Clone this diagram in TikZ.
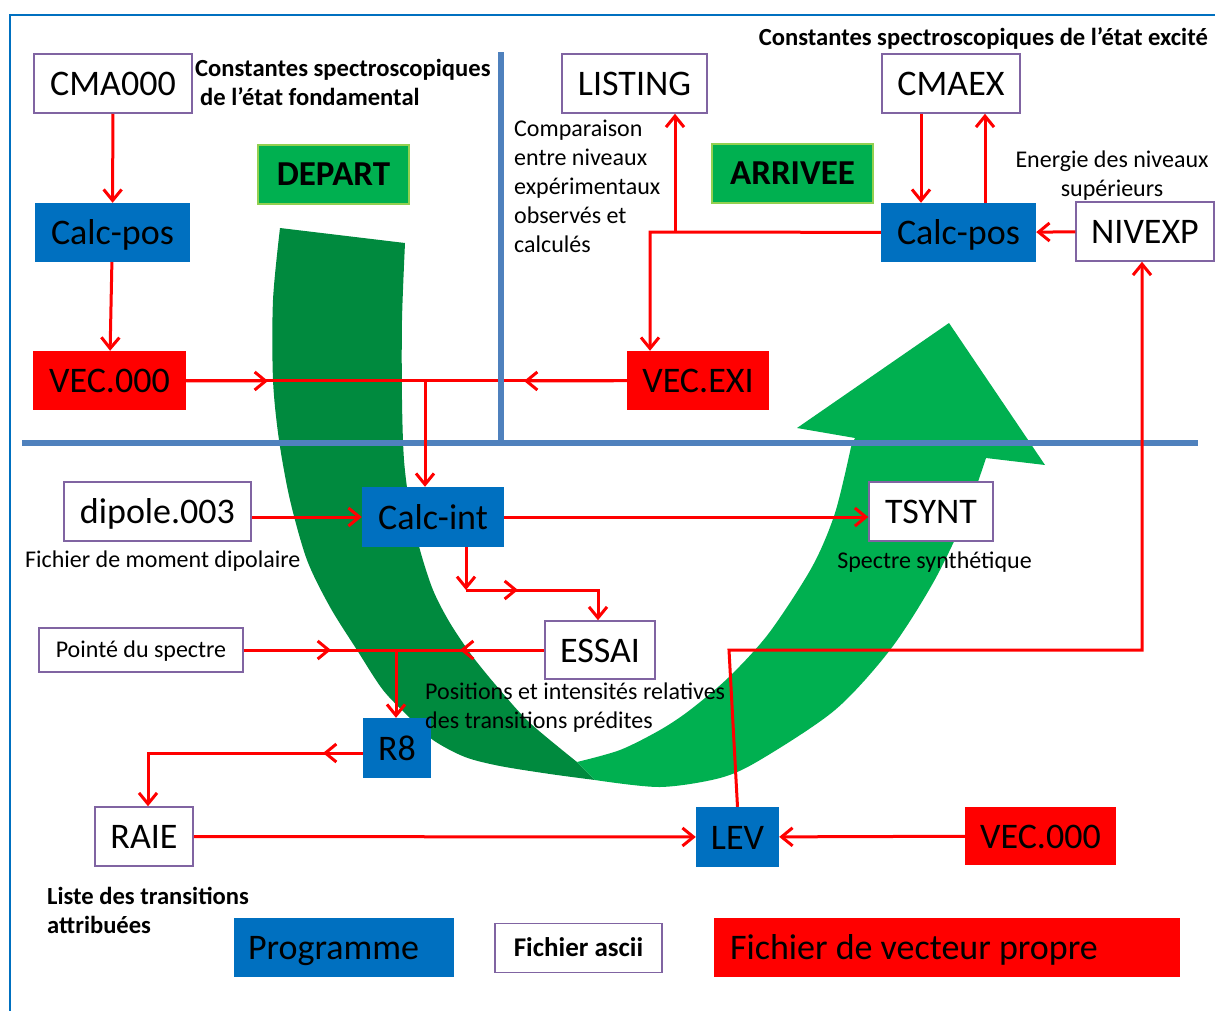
\documentclass[tikz,border=0pt]{standalone}
\usepackage{fontspec}
\setmainfont{Carlito}
\usetikzlibrary{arrows.meta}
\definecolor{progblue}{HTML}{0070C0}
\definecolor{frameblue}{HTML}{0070C0}
\definecolor{sepblue}{HTML}{4F81BD}
\definecolor{asciiborder}{HTML}{8064A2}
\definecolor{arrowdark}{HTML}{008A3E}
\definecolor{arrowgreen}{HTML}{00B050}
\definecolor{stageborder}{HTML}{92D050}
\tikzset{
  boxtext/.style={inner sep=0pt, minimum height=59, text height=28, text depth=4, font=\fontsize{36}{40}\selectfont},
  ascii/.style={boxtext, draw=asciiborder, line width=1.5pt, fill=white},
  prog/.style={boxtext, fill=progblue},
  eigvec/.style={boxtext, fill=red},
  stage/.style={fill=arrowgreen, draw=stageborder, line width=1.2pt, inner sep=0pt, minimum height=59, text height=26, text depth=4, font=\bfseries\fontsize{35}{40}\selectfont},
  note/.style={inner sep=0pt, align=left, font=\fontsize{24}{29}\selectfont},
  bnote/.style={inner sep=0pt, align=left, font=\bfseries\fontsize{24.6}{29}\selectfont},
}
\begin{document}
\begin{tikzpicture}[x=1pt,y=-1pt]
      \useasboundingbox (0,0) rectangle (1215,1010);
      \fill[arrowdark] plot[smooth] coordinates {(280,228) (273,300) (273,380) (279,440) (290,500) (307,560) (330,607) (357,650) (383,690) (410,718) (433,740) (465,757) (500,766) (550,774) (595,780)}
        -- plot[smooth] coordinates {(577,762) (530,723) (500,690) (473,657) (450,623) (433,590) (420,550) (410,507) (404,460) (402,400) (402,320) (405,243)} -- cycle;
      \fill[arrowgreen] plot[smooth] coordinates {(595,780) (660,787) (720,778) (760,760) (835,710) (890,650) (933,583) (965,517) (986,458)}
        -- (1045,465) -- (949,323) -- (797,428) -- (855,438)
        -- plot[smooth] coordinates {(851,447) (835,513) (812,567) (769,633) (729,677) (690,710) (660,730) (620,750) (577,762)} -- cycle;
      \draw[frameblue, line width=2.5pt] (10,1012) -- (10,15) -- (1217,15);
      \draw[sepblue, line width=6pt] (22,443) -- (1198,443);
      \draw
        (113,83.5) node[ascii, minimum width=158] (cmaA) {CMA000}
        (112.5,232.5) node[prog, minimum width=155] (calcposA) {Calc-pos}
        (109.5,380.5) node[eigvec, minimum width=153] (vecA) {VEC.000}
        (333.5,174.5) node[stage, minimum width=151] (depart) {DEPART}
        (634.5,83.5) node[ascii, minimum width=145] (listing) {LISTING}
        (792.5,173.5) node[stage, minimum width=161] (arrivee) {ARRIVEE}
        (951,83.5) node[ascii, minimum width=138] (cmaex) {CMAEX}
        (958.5,232.5) node[prog, minimum width=155] (calcposB) {Calc-pos}
        (1145,231.5) node[ascii, minimum width=138] (nivexp) {NIVEXP}
        (698,380.5) node[eigvec, minimum width=142] (vecexi) {VEC.EXI}
        (157.5,511.5) node[ascii, minimum width=187] (dipole) {dipole.003}
        (433,517) node[prog, minimum width=142, minimum height=60] (calcint) {Calc-int}
        (931,511.5) node[ascii, minimum width=124] (tsynt) {TSYNT}
        (141,650) node[ascii, minimum width=204, minimum height=44, text height=19, text depth=3.5, font=\fontsize{24}{28}\selectfont] (pointe) {Pointé du spectre}
        (600,650) node[ascii, minimum width=110, minimum height=58] (essai) {ESSAI}
        (397,748) node[prog, minimum width=68, minimum height=60] (reight) {R8}
        (144,836.5) node[ascii, minimum width=98] (raie) {RAIE}
        (737.5,837) node[prog, minimum width=83, minimum height=60] (lev) {LEV}
        (1040.5,836) node[eigvec, minimum width=151, minimum height=58] (vecB) {VEC.000}
        (344,947.5) node[prog, text width=192, inner xsep=14, align=flush left] (legprog) {Programme}
        (578.5,948) node[ascii, minimum width=167, minimum height=49, text height=21, text depth=3.6, font=\bfseries\fontsize{27}{30}\selectfont] (legascii) {Fichier ascii}
        (947,947.5) node[eigvec, text width=434, inner xsep=16, align=flush left] (legvec) {Fichier de vecteur propre};
      \draw
        (195,105) node[bnote, anchor=base west] (fondtext) {Constantes spectroscopiques\\\hspace{5pt}de l’état fondamental}
        (1208,45) node[bnote, anchor=base east] (excitext) {Constantes spectroscopiques de l’état excité}
        (514,252) node[note, anchor=base west] (comptext) {Comparaison\\entre niveaux\\expérimentaux\\observés et\\calculés}
        (1112,196) node[note, anchor=base, align=center] (energtext) {Energie des niveaux\\supérieurs}
        (25,567) node[note, anchor=base west] (diptext) {Fichier de moment dipolaire}
        (934.5,568) node[note, anchor=base] (synthtext) {Spectre synthétique}
        (425,728) node[note, anchor=base west] (predtext) {Positions et intensités relatives\\des transitions prédites}
        (47,933) node[bnote, anchor=base west] (listtext) {Liste des transitions\\attribuées};
      \coordinate (jA) at (425,381);
      \coordinate (mA) at (268,381);
      \coordinate (mB) at (524,381);
      \coordinate (kA) at (650,232);
      \coordinate (kB) at (675,232);
      \coordinate (eA) at (466,590);
      \coordinate (eB) at (598,590);
      \coordinate (mC) at (518,590);
      \coordinate (jB) at (396,650);
      \coordinate (mD) at (331,650);
      \coordinate (mE) at (460,650);
      \coordinate (rA) at (148,753);
      \coordinate (mF) at (323,753);
      \coordinate (lA) at (729,650);
      \coordinate (lB) at (1142,650);
      \begin{scope}[red, line width=3pt, >={Straight Barb[length=11pt,width=18pt]}]
        \draw[->] (cmaA) to (calcposA);
        \draw[->] (calcposA) to (vecA);
        \draw (vecA) to (vecexi);
        \draw[->] (vecA) to (mA);
        \draw[->] (vecexi) to (mB);
        \draw[->] (jA) to (jA |- calcint.north);
        \draw[->] ([xshift=-30]cmaex.south) to ([xshift=-37.5]calcposB.north);
        \draw[->] ([xshift=26.5]calcposB.north) to ([xshift=34]cmaex.south);
        \draw[->] (nivexp) to (calcposB);
        \draw[->] (calcposB) -- (kA) -- (kA |- vecexi.north);
        \draw[->] (kB) to (kB |- listing.south);
        \draw[->] (dipole.east |- calcint) to (calcint);
        \draw[->] (calcint) to (tsynt.west |- calcint);
        \draw[->] (calcint.south -| eA) to (eA);
        \draw[->] (eA) to (mC);
        \draw[->] (eA) -- (eB) -- (essai.north -| eB);
        \draw (pointe) to (essai);
        \draw[->] (pointe) to (mD);
        \draw[->] (essai) to (mE);
        \draw[->] (jB) to (jB |- reight.north);
        \draw[->] (reight.west |- rA) -- (rA) -- (rA |- raie.north);
        \draw[->] (reight.west |- rA) to (mF);
        \draw[->] (raie) to (lev);
        \draw[->] (vecB) to (lev);
        \draw[->] (lev.north) -- (lA) -- (lB) -- (lB |- nivexp.south);
      \end{scope}
      \draw[sepblue, line width=6pt] (501,52) -- (501,440);
    \end{tikzpicture}
\end{document}
